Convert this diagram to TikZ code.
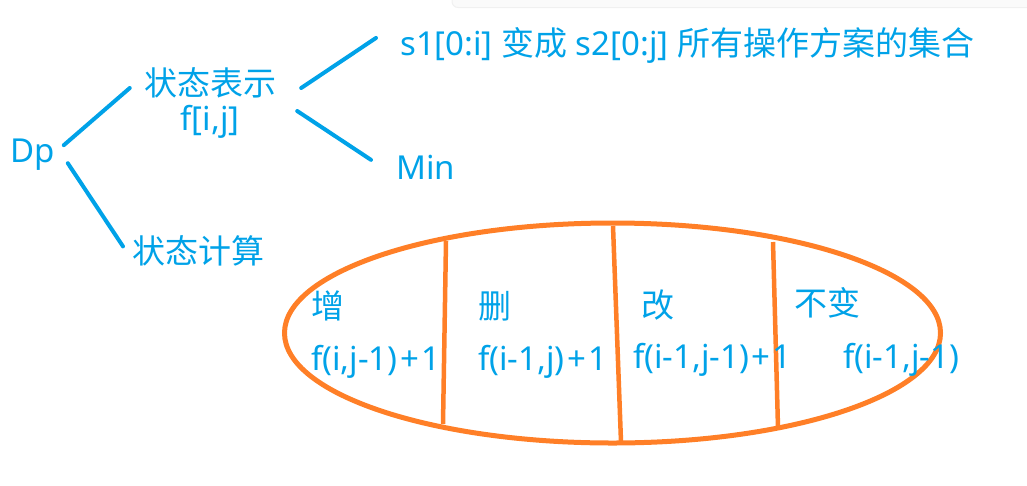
\documentclass[tikz,border=0pt]{standalone}
\usepackage{fontspec}
\usepackage{xcolor}
\setmainfont{Noto Sans}
\newfontfamily\cjk{Noto Sans CJK SC}
\definecolor{vskyblue}{HTML}{00A2E8}
\definecolor{vorange}{HTML}{FF7F27}
\newcommand{\plusone}{\kern2.5pt+\kern2pt1}

\begin{document}
\begin{tikzpicture}[x=1pt, y=-1pt,
		txt/.style={color=vskyblue, inner sep=0pt, font=\fontsize{33}{35}\selectfont},
		branch/.style={color=vskyblue, line width=4pt, line cap=round},
		split/.style={color=vorange, line width=4.5pt}]
		\useasboundingbox (0,0) rectangle (1027,485);
		\fill[gray!4, rounded corners=6] (452,-10) rectangle (1040,7);
		\draw[gray!12, line width=1pt, rounded corners=6] (452,-10) -- (452,7.5) -- (1040,7.5);
		\node[txt, anchor=base west] (dp) at (10,162) {Dp};
		\node[txt, align=center] (repr) at (210,103) {{\cjk 状态表示}\\f[i,j]};
		\node[txt, anchor=base west] (set) at (400,55) {s1[0:i] {\cjk 变成} s2[0:j] {\cjk 所有操作方案的集合}};
		\node[txt, anchor=base west] (minv) at (396,179) {Min};
		\node[txt, anchor=base west] (calc) at (132,263) {\cjk 状态计算};
		\draw[branch] ([shift={(9,-9)}]dp.east) -- ([shift={(-14,-15)}]repr.west);
		\draw[branch] ([shift={(13,9)}]dp.east) -- ([shift={(-9,-4)}]calc.west);
		\draw[branch] ([shift={(25,-15)}]repr.east) -- ([shift={(-24,-7)}]set.west);
		\draw[branch] ([shift={(21,8)}]repr.east) -- ([shift={(-25,-7)}]minv.west);
		% four cases
		\draw[color=vorange, line width=5pt] (612.5,333) ellipse [x radius=328, y radius=110];
		\draw[split] (446,241) -- (443,424);
		\draw[split] (613,226) -- (621,442);
		\draw[split] (773,242) -- (778,428);
		\node[txt, anchor=base west] (add) at (311,318) {\cjk 增};
		\node[txt, anchor=base west] (del) at (478,318) {\cjk 删};
		\node[txt, anchor=base west] (rep) at (641,317) {\cjk 改};
		\node[txt, anchor=base west] (keep) at (794,315) {\cjk 不变};
		\node[txt, anchor=base west] (fadd) at (311,370) {f(i,j-1)\plusone};
		\node[txt, anchor=base west] (fdel) at (478,370) {f(i-1,j)\plusone};
		\node[txt, anchor=base west] (frep) at (633,368) {f(i-1,j-1)\plusone};
		\node[txt, anchor=base west] (fkeep) at (843,368) {f(i-1,j-1)};
	\end{tikzpicture}
\end{document}
